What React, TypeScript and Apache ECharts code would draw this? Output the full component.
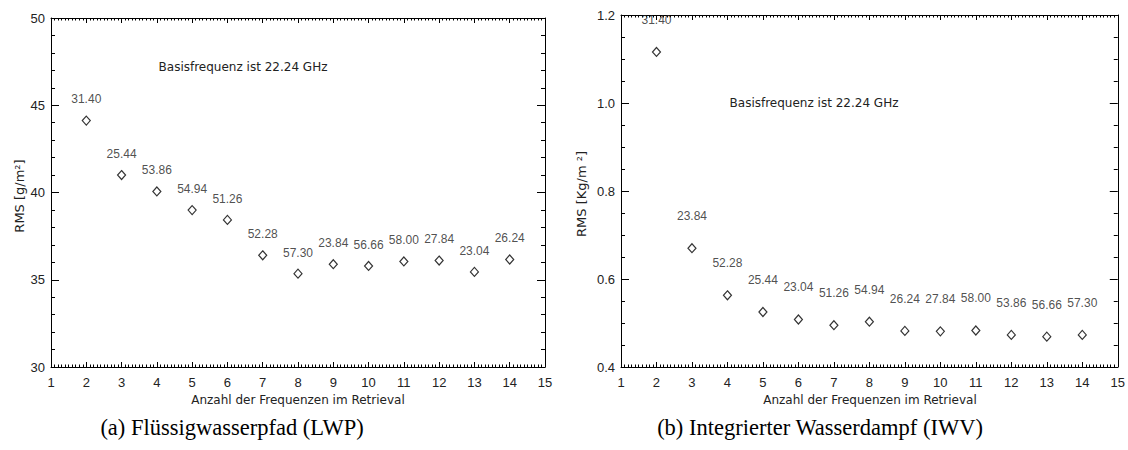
import React, { useEffect, useRef } from "react";
import * as echarts from "echarts";

// Number of frequencies in the retrieval
const nFreq = [2, 3, 4, 5, 6, 7, 8, 9, 10, 11, 12, 13, 14];

// (a) LWP RMS [g/m²] and the added frequency (GHz) labels
const lwpRms = [44.12, 41.0, 40.06, 38.99, 38.43, 36.4, 35.35, 35.89, 35.79, 36.05, 36.1, 35.45, 36.16];
const lwpLabels = ["31.40", "25.44", "53.86", "54.94", "51.26", "52.28", "57.30", "23.84", "56.66", "58.00", "27.84", "23.04", "26.24"];

// (b) IWV RMS [Kg/m²] and the added frequency (GHz) labels
const iwvRms = [1.116, 0.67, 0.563, 0.525, 0.508, 0.495, 0.503, 0.482, 0.481, 0.483, 0.473, 0.469, 0.473];
const iwvLabels = ["31.40", "23.84", "52.28", "25.44", "23.04", "51.26", "54.94", "26.24", "27.84", "58.00", "53.86", "56.66", "57.30"];

const xTitle = "Anzahl der Frequenzen im Retrieval";
const note = "Basisfrequenz ist 22.24 GHz";
const yTitleA = "RMS [g/m²]";
const yTitleB = "RMS [Kg/m ²]";
const captionA = "(a) Flüssigwasserpfad (LWP)";
const captionB = "(b) Integrierter Wasserdampf (IWV)";

const TICK_FONT = "Liberation Sans";
const TXT_FONT = "DejaVu Sans";
const INK = "#222";

function xAxes(gridIndex: number) {
  const base = {
    gridIndex,
    type: "value",
    min: 1,
    max: 15,
    interval: 1,
    axisLine: { show: true, onZero: false, lineStyle: { color: "#000", width: 1 } },
    axisTick: { show: true, inside: true, length: 5, lineStyle: { color: "#000", width: 1 } },
    minorTick: { show: true, splitNumber: 10, length: 2.5, lineStyle: { color: "#000", width: 1 } },
    splitLine: { show: false },
    minorSplitLine: { show: false },
  };
  return [
    {
      ...base,
      position: "bottom",
      axisLabel: { show: true, margin: 9, color: INK, fontFamily: TICK_FONT, fontSize: 13 },
    },
    { ...base, position: "top", axisLabel: { show: false } },
  ];
}

function yAxes(gridIndex: number, min: number, max: number, interval: number, minorSplit: number, digits: number) {
  const base = {
    gridIndex,
    type: "value",
    min,
    max,
    interval,
    axisLine: { show: true, onZero: false, lineStyle: { color: "#000", width: 1 } },
    axisTick: { show: true, inside: true, length: 8, lineStyle: { color: "#000", width: 1 } },
    minorTick: { show: true, splitNumber: minorSplit, length: 4, lineStyle: { color: "#000", width: 1 } },
    splitLine: { show: false },
    minorSplitLine: { show: false },
  };
  return [
    {
      ...base,
      position: "left",
      axisLabel: {
        show: true,
        margin: 6,
        color: INK,
        fontFamily: TICK_FONT,
        fontSize: 13,
        formatter: (v: number) => v.toFixed(digits),
      },
    },
    { ...base, position: "right", axisLabel: { show: false } },
  ];
}

function scatter(gridAxisIdx: number, values: number[], labels: string[], dist: number) {
  return {
    type: "scatter",
    xAxisIndex: gridAxisIdx,
    yAxisIndex: gridAxisIdx,
    symbol: "diamond",
    symbolSize: [8, 9],
    itemStyle: { color: "#fff", borderColor: "#000", borderWidth: 1.2 },
    data: nFreq.map((n, i) => [n, values[i]]),
    label: {
      show: true,
      position: "top",
      distance: dist,
      color: INK,
      fontFamily: TICK_FONT,
      fontSize: 12,
      formatter: (p: any) => labels[p.dataIndex],
    },
    clip: false,
  };
}

function txt(text: string, x: number, y: number, font: string, size: number, rotation = 0, color = INK) {
  return {
    type: "text",
    x,
    y,
    rotation,
    style: {
      text,
      fill: color,
      font: `${size}px "${font}"`,
      fontFamily: font,
      fontSize: size,
      align: "center",
      verticalAlign: "middle",
      textAlign: "center",
      textVerticalAlign: "middle",
    },
  };
}

export default function App() {
  const ref = useRef<HTMLDivElement>(null);
  useEffect(() => {
    if (!ref.current) return;
    const chart = echarts.init(ref.current, undefined, { renderer: "svg" });
    const option: any = {
      animation: false,
      backgroundColor: "#fff",
      grid: [
        { left: 51, top: 18, width: 494, height: 349 },
        { left: 621, top: 15, width: 498, height: 352 },
      ],
      xAxis: [...xAxes(0), ...xAxes(1)],
      yAxis: [...yAxes(0, 30, 50, 5, 5, 0), ...yAxes(1, 0.4, 1.2, 0.2, 4, 1)],
      series: [
        { ...scatter(0, lwpRms, lwpLabels, 10) },
        { ...scatter(2, iwvRms, iwvLabels, 21) },
      ],
      graphic: [
        txt(note, 243, 67, TXT_FONT, 12),
        txt(note, 814, 103, TXT_FONT, 12),
        txt(yTitleA, 19, 196, TXT_FONT, 13, Math.PI / 2),
        txt(yTitleB, 581, 194, TXT_FONT, 13, Math.PI / 2),
        txt(xTitle, 298, 400, TXT_FONT, 12),
        txt(xTitle, 870, 400, TXT_FONT, 12),
        txt(captionA, 232, 427, "Liberation Serif", 22.5, 0, "#000"),
        txt(captionB, 820, 427, "Liberation Serif", 22.5, 0, "#000"),
      ],
    };
    chart.setOption(option);
    return () => chart.dispose();
  }, []);
  return (
    <div
      ref={ref}
      style={{ position: "fixed", left: 0, top: 0, width: 1128, height: 450, background: "#fff" }}
    />
  );
}
